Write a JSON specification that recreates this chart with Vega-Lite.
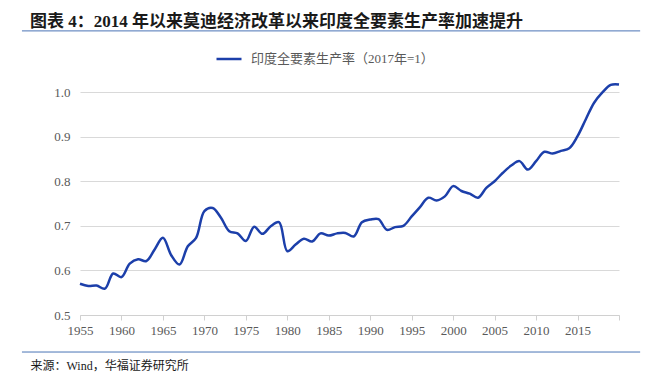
{
  "$schema": "https://vega.github.io/schema/vega-lite/v6.json",
  "autosize": {"type": "none"},
  "width": 539,
  "height": 223,
  "padding": {"left": 80, "top": 92, "right": 38, "bottom": 61},
  "background": "white",
  "title": {
    "text": "图表 4：2014 年以来莫迪经济改革以来印度全要素生产率加速提升",
    "anchor": "start",
    "frame": "group",
    "dx": -50,
    "dy": -4,
    "offset": -5,
    "font": "Liberation Serif, Noto Sans CJK SC",
    "fontSize": 17,
    "fontWeight": "bold",
    "color": "#1a1a1a"
  },
  "config": {
    "view": {"stroke": null},
    "font": "Liberation Serif, Noto Sans CJK SC",
    "axis": {
      "labelFont": "Liberation Serif, Noto Sans CJK SC",
      "labelFontSize": 13,
      "labelColor": "#595959",
      "gridColor": "#d9d9d9",
      "domainColor": "#d0d0d0",
      "tickColor": "#d0d0d0"
    }
  },
  "data": {
    "values": [
      {"year": 1955, "tfp": 0.570}, {"year": 1956, "tfp": 0.565}, {"year": 1957, "tfp": 0.566},
      {"year": 1958, "tfp": 0.559}, {"year": 1959, "tfp": 0.593}, {"year": 1960, "tfp": 0.585},
      {"year": 1961, "tfp": 0.615}, {"year": 1962, "tfp": 0.625}, {"year": 1963, "tfp": 0.621},
      {"year": 1964, "tfp": 0.647}, {"year": 1965, "tfp": 0.673}, {"year": 1966, "tfp": 0.634},
      {"year": 1967, "tfp": 0.613}, {"year": 1968, "tfp": 0.654}, {"year": 1969, "tfp": 0.673},
      {"year": 1970, "tfp": 0.733}, {"year": 1971, "tfp": 0.740}, {"year": 1972, "tfp": 0.718},
      {"year": 1973, "tfp": 0.688}, {"year": 1974, "tfp": 0.683}, {"year": 1975, "tfp": 0.666},
      {"year": 1976, "tfp": 0.698}, {"year": 1977, "tfp": 0.682}, {"year": 1978, "tfp": 0.699},
      {"year": 1979, "tfp": 0.708}, {"year": 1980, "tfp": 0.643}, {"year": 1981, "tfp": 0.658},
      {"year": 1982, "tfp": 0.671}, {"year": 1983, "tfp": 0.665}, {"year": 1984, "tfp": 0.683},
      {"year": 1985, "tfp": 0.678}, {"year": 1986, "tfp": 0.683}, {"year": 1987, "tfp": 0.684},
      {"year": 1988, "tfp": 0.676}, {"year": 1989, "tfp": 0.708}, {"year": 1990, "tfp": 0.714},
      {"year": 1991, "tfp": 0.715}, {"year": 1992, "tfp": 0.691}, {"year": 1993, "tfp": 0.697},
      {"year": 1994, "tfp": 0.700}, {"year": 1995, "tfp": 0.721}, {"year": 1996, "tfp": 0.742},
      {"year": 1997, "tfp": 0.763}, {"year": 1998, "tfp": 0.757}, {"year": 1999, "tfp": 0.766},
      {"year": 2000, "tfp": 0.789}, {"year": 2001, "tfp": 0.778}, {"year": 2002, "tfp": 0.772},
      {"year": 2003, "tfp": 0.763}, {"year": 2004, "tfp": 0.785}, {"year": 2005, "tfp": 0.800},
      {"year": 2006, "tfp": 0.819}, {"year": 2007, "tfp": 0.835}, {"year": 2008, "tfp": 0.845},
      {"year": 2009, "tfp": 0.826}, {"year": 2010, "tfp": 0.845}, {"year": 2011, "tfp": 0.866},
      {"year": 2012, "tfp": 0.862}, {"year": 2013, "tfp": 0.868}, {"year": 2014, "tfp": 0.874},
      {"year": 2015, "tfp": 0.901}, {"year": 2016, "tfp": 0.939}, {"year": 2017, "tfp": 0.976},
      {"year": 2018, "tfp": 0.999}, {"year": 2019, "tfp": 1.016}, {"year": 2020, "tfp": 1.017}
    ]
  },
  "layer": [
    {
      "mark": {"type": "line", "interpolate": "catmull-rom", "strokeWidth": 2.5},
      "encoding": {
        "x": {
          "field": "year", "type": "quantitative",
          "scale": {"domain": [1955, 2020], "nice": false, "zero": false},
          "axis": {
            "values": [1955, 1960, 1965, 1970, 1975, 1980, 1985, 1990, 1995, 2000, 2005, 2010, 2015, 2020],
            "format": "d",
            "labelExpr": "datum.value == 2020 ? '' : datum.label",
            "labelFont": "Liberation Serif",
            "labelFontSize": 13,
            "labelFlush": false,
            "labelOverlap": false,
            "grid": false,
            "tickSize": 5,
            "labelPadding": 4,
            "title": "来源：Wind，华福证券研究所",
            "titleFont": "Liberation Serif, Noto Sans CJK SC",
            "titleFontSize": 12,
            "titleFontWeight": "normal",
            "titleColor": "#1a1a1a",
            "titleAnchor": "start",
            "titleAlign": "left",
            "titleBaseline": "middle",
            "titleX": -50,
            "titleY": 50
          }
        },
        "y": {
          "field": "tfp", "type": "quantitative",
          "scale": {"domain": [0.5, 1.0], "nice": false, "zero": false},
          "axis": {
            "values": [0.5, 0.6, 0.7, 0.8, 0.9, 1.0],
            "format": ".1f",
            "labelFont": "Liberation Serif",
            "labelFontSize": 13,
            "domain": false,
            "ticks": false,
            "labelPadding": 10,
            "title": null
          }
        },
        "color": {
          "datum": "印度全要素生产率（2017年=1）",
          "scale": {"range": ["#1c3faa"]},
          "legend": {
            "orient": "none",
            "legendX": 135,
            "legendY": -47,
            "title": null,
            "padding": 0,
            "symbolType": "stroke",
            "symbolSize": 625,
            "symbolStrokeWidth": 2.5,
            "labelFont": "Liberation Serif, Noto Sans CJK SC",
            "labelFontSize": 13,
            "labelColor": "#595959",
            "labelOffset": 8,
            "labelLimit": 0
          }
        }
      }
    },
    {
      "data": {"values": [{}]},
      "mark": {"type": "rule", "color": "#4a74b5", "strokeWidth": 1},
      "encoding": {
        "x": {"datum": 1948.0, "type": "quantitative"},
        "x2": {"datum": 2022.55},
        "y": {"datum": 1.137, "type": "quantitative"}
      }
    },
    {
      "data": {"values": [{}]},
      "mark": {"type": "rule", "color": "#4a74b5", "strokeWidth": 1},
      "encoding": {
        "x": {"datum": 1948.0, "type": "quantitative"},
        "x2": {"datum": 2022.55},
        "y": {"datum": 0.417, "type": "quantitative"}
      }
    }
  ]
}
